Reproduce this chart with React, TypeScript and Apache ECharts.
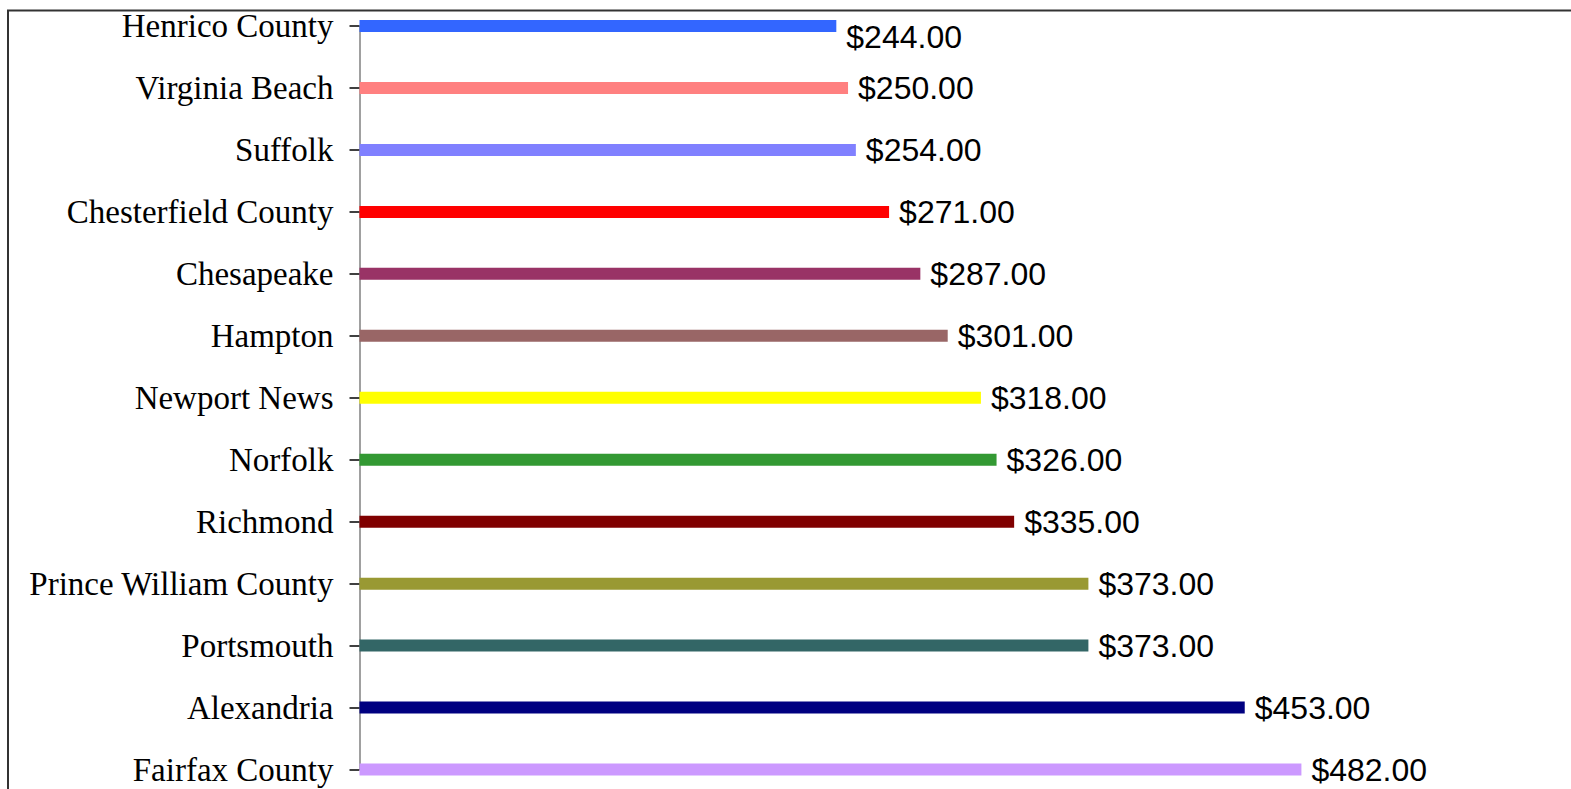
import React, { useEffect, useRef } from "react";
import * as echarts from "echarts";

const categories = [
  "Henrico County",
  "Virginia Beach",
  "Suffolk",
  "Chesterfield County",
  "Chesapeake",
  "Hampton",
  "Newport News",
  "Norfolk",
  "Richmond",
  "Prince William County",
  "Portsmouth",
  "Alexandria",
  "Fairfax County",
];

const values = [244, 250, 254, 271, 287, 301, 318, 326, 335, 373, 373, 453, 482];

const barColors = [
  "#3366FF",
  "#FF8080",
  "#8080FF",
  "#FF0000",
  "#993366",
  "#996666",
  "#FFFF00",
  "#339933",
  "#800000",
  "#999933",
  "#336666",
  "#000080",
  "#CC99FF",
];

export default function App() {
  const ref = useRef<HTMLDivElement>(null);

  useEffect(() => {
    document.body.style.margin = "0";
    const chart = echarts.init(ref.current!, null, { renderer: "svg" });
    chart.setOption({
      animation: false,
      backgroundColor: "#ffffff",
      graphic: [
        {
          type: "rect",
          shape: { x: 8, y: 10.5, width: 1700, height: 900 },
          style: { fill: "none", stroke: "#333333", lineWidth: 2 },
          silent: true,
          z: 100,
        },
      ],
      grid: {
        left: 359.5,
        top: 26,
        width: 1172.5,
        height: 743.5,
        containLabel: false,
      },
      xAxis: {
        type: "value",
        min: 0,
        max: 600,
        show: false,
      },
      yAxis: {
        type: "category",
        inverse: true,
        boundaryGap: false,
        data: categories,
        axisLine: { show: true, lineStyle: { color: "#808080", width: 1.5 } },
        axisTick: { show: true, length: 10, lineStyle: { color: "#000000", width: 1.5 } },
        axisLabel: {
          margin: 26,
          color: "#000000",
          fontFamily: "Liberation Serif",
          fontSize: 33,
        },
        splitLine: { show: false },
      },
      series: [
        {
          type: "bar",
          barWidth: 12,
          data: values.map((v, i) => ({
            value: v,
            itemStyle: { color: barColors[i] },
            label: i === 0 ? { offset: [0, 11] } : undefined,
          })),
          label: {
            show: true,
            position: "right",
            distance: 10,
            color: "#000000",
            fontFamily: "Liberation Sans",
            fontSize: 32,
            formatter: (p: any) => "$" + Number(p.value).toFixed(2),
          },
        },
      ],
    });
    return () => chart.dispose();
  }, []);

  return <div ref={ref} style={{ width: 1571, height: 789, overflow: "hidden" }} />;
}
